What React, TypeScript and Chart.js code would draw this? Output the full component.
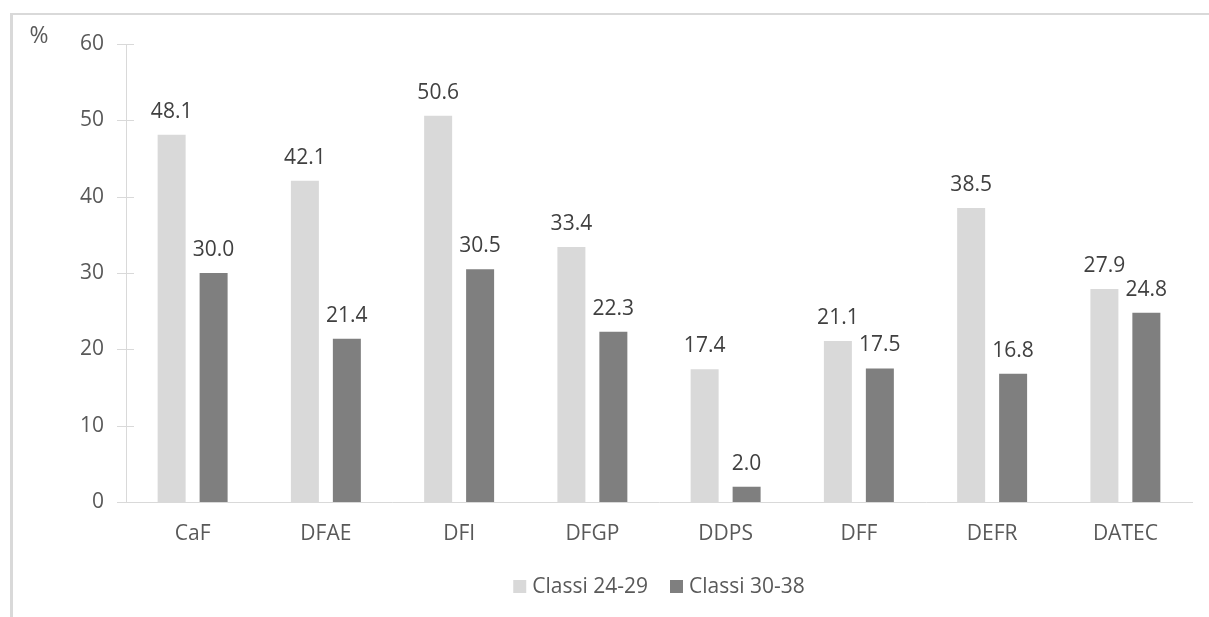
import React, { useEffect, useRef } from "react";
import { Chart, registerables } from "chart.js";

Chart.register(...registerables);

const categories = ["CaF", "DFAE", "DFI", "DFGP", "DDPS", "DFF", "DEFR", "DATEC"];
const classi2429 = [48.1, 42.1, 50.6, 33.4, 17.4, 21.1, 38.5, 27.9];
const classi3038 = [30.0, 21.4, 30.5, 22.3, 2.0, 17.5, 16.8, 24.8];
const seriesNames = ["Classi 24-29", "Classi 30-38"];
const yTicks = [0, 10, 20, 30, 40, 50, 60];
const unitLabel = "%";

const FONT = "'Open Sans', 'Noto Sans', sans-serif";
const AXIS_COLOR = "#d9d9d9";
const TEXT_COLOR = "#595959";
const LABEL_COLOR = "#404040";

const decorPlugin = {
  id: "decor",
  beforeDraw(chart: any) {
    const ctx = chart.ctx;
    ctx.save();
    ctx.fillStyle = "#ffffff";
    ctx.fillRect(0, 0, chart.width, chart.height);
    ctx.fillStyle = AXIS_COLOR;
    ctx.fillRect(10, 13, chart.width - 10, 2);
    ctx.fillRect(10, 13, 3, chart.height - 13);
    ctx.restore();
  },
  afterDraw(chart: any) {
    const ctx = chart.ctx;
    const yScale = chart.scales.y;
    const area = chart.chartArea;
    ctx.save();
    ctx.strokeStyle = AXIS_COLOR;
    ctx.lineWidth = 1;
    yTicks.forEach((v) => {
      const y = Math.round(yScale.getPixelForValue(v)) + 0.5;
      ctx.beginPath();
      ctx.moveTo(area.left - 9, y);
      ctx.lineTo(area.left + 8, y);
      ctx.stroke();
    });
    ctx.fillStyle = TEXT_COLOR;
    ctx.font = `23px ${FONT}`;
    ctx.textAlign = "center";
    ctx.textBaseline = "middle";
    ctx.fillText(unitLabel, 39, 36);
    ctx.font = `21px ${FONT}`;
    ctx.fillStyle = LABEL_COLOR;
    ctx.textBaseline = "alphabetic";
    chart.data.datasets.forEach((ds: any, di: number) => {
      const meta = chart.getDatasetMeta(di);
      meta.data.forEach((bar: any, i: number) => {
        ctx.fillText(Number(ds.data[i]).toFixed(1), bar.x, bar.y - 17);
      });
    });
    ctx.font = `21px ${FONT}`;
    ctx.textAlign = "left";
    const box = 13;
    const gapBoxText = 6;
    const gapItems = 22;
    const widths = chart.data.datasets.map((ds: any) => box + gapBoxText + ctx.measureText(ds.label).width);
    const total = widths.reduce((a: number, b: number) => a + b, 0) + gapItems * (widths.length - 1);
    let x = (area.left + area.right) / 2 - total / 2;
    const baseline = 593;
    chart.data.datasets.forEach((ds: any, di: number) => {
      ctx.fillStyle = ds.backgroundColor;
      ctx.fillRect(x, baseline - 13, box, box);
      ctx.fillStyle = TEXT_COLOR;
      ctx.fillText(ds.label, x + box + gapBoxText, baseline);
      x += widths[di] + gapItems;
    });
    ctx.restore();
  },
};

export default function App() {
  const ref = useRef<HTMLCanvasElement | null>(null);
  useEffect(() => {
    if (!ref.current) return;
    const chart = new Chart(ref.current, {
      type: "bar",
      data: {
        labels: categories,
        datasets: [
          { label: seriesNames[0], data: classi2429, backgroundColor: "#d9d9d9", borderWidth: 0 },
          { label: seriesNames[1], data: classi3038, backgroundColor: "#7f7f7f", borderWidth: 0 },
        ],
      },
      options: {
        animation: false,
        responsive: false,
        maintainAspectRatio: false,
        devicePixelRatio: 1,
        layout: { padding: { left: 0, right: 17, top: 44, bottom: 0 } },
        datasets: { bar: { categoryPercentage: 0.63, barPercentage: 0.667 } },
        plugins: { legend: { display: false }, tooltip: { enabled: false } },
        scales: {
          x: {
            grid: { display: false, drawTicks: false },
            border: { display: true, color: AXIS_COLOR, width: 1 },
            ticks: { color: TEXT_COLOR, font: { family: FONT, size: 21 }, padding: 19, maxRotation: 0 },
            afterFit: (s: any) => { s.height = 115; },
          },
          y: {
            min: 0,
            max: 60,
            ticks: { stepSize: 10, color: TEXT_COLOR, font: { family: FONT, size: 21 }, padding: 22 },
            grid: { display: false, drawTicks: false },
            border: { display: true, color: AXIS_COLOR, width: 1 },
            afterFit: (s: any) => { s.width = 126; },
          },
        },
      },
      plugins: [decorPlugin],
    });
    return () => chart.destroy();
  }, []);
  return (
    <div style={{ position: "fixed", left: 0, top: 0, width: 1209, height: 617, background: "#fff" }}>
      <canvas ref={ref} width={1209} height={617} style={{ width: 1209, height: 617, display: "block" }} />
    </div>
  );
}
